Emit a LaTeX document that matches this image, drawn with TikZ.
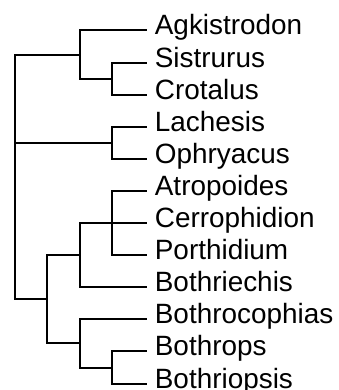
\documentclass[tikz,border=0pt]{standalone}
\usepackage{fontspec}
\setmainfont{Liberation Sans}
\usepackage{tikz}
\tikzset{
  every picture/.style={line join=miter, line cap=butt},
  branch/.style={line width=1.42pt},
  taxon/.style={anchor=base west, inner sep=0pt, xshift=0.19cm, yshift=-0.1125cm, font=\fontsize{19.85}{24}\selectfont},
}

\begin{document}
\begin{tikzpicture}
\useasboundingbox (0,0) rectangle (8.450,9.750);
% tips
\coordinate (tAgk) at (3.675,8.988);
\coordinate (tSis) at (3.675,8.185);
\coordinate (tCro) at (3.675,7.383);
\coordinate (tLac) at (3.675,6.580);
\coordinate (tOph) at (3.675,5.778);
\coordinate (tAtr) at (3.675,4.975);
\coordinate (tCer) at (3.675,4.173);
\coordinate (tPor) at (3.675,3.370);
\coordinate (tBrc) at (3.675,2.568);
\coordinate (tBcp) at (3.675,1.765);
\coordinate (tBrp) at (3.675,0.963);
\coordinate (tBps) at (3.675,0.160);
\node[taxon] (agk) at (tAgk) {Agkistrodon};
\node[taxon] (sis) at (tSis) {Sistrurus};
\node[taxon] (cro) at (tCro) {Crotalus};
\node[taxon] (lac) at (tLac) {Lachesis};
\node[taxon] (oph) at (tOph) {Ophryacus};
\node[taxon] (atr) at (tAtr) {Atropoides};
\node[taxon] (cer) at (tCer) {Cerrophidion};
\node[taxon] (por) at (tPor) {Porthidium};
\node[taxon] (brc) at (tBrc) {Bothriechis};
\node[taxon] (bcp) at (tBcp) {Bothrocophias};
\node[taxon] (brp) at (tBrp) {Bothrops};
\node[taxon] (bps) at (tBps) {Bothriopsis};
% internal nodes
\coordinate (nSC) at (2.788,7.784);
\coordinate (nAg) at (2.000,8.385);
\coordinate (nLO) at (2.788,6.179);
\coordinate (nACP) at (2.788,4.173);
\coordinate (nBcl) at (2.000,3.370);
\coordinate (nBB) at (2.788,0.561);
\coordinate (nBBB) at (2.000,1.163);
\coordinate (nBot) at (1.168,2.268);
\coordinate (nRoot) at (0.375,6.179);
% branches
\draw[branch] (nSC) |- (tSis) (nSC) |- (tCro);
\draw[branch] (nAg) |- (tAgk) (nAg) |- (nSC);
\draw[branch] (nLO) |- (tLac) (nLO) |- (tOph);
\draw[branch] (nACP) |- (tAtr) (nACP) |- (tCer) (nACP) |- (tPor);
\draw[branch] (nBcl) |- (nACP) (nBcl) |- (tBrc);
\draw[branch] (nBB) |- (tBrp) (nBB) |- (tBps);
\draw[branch] (nBBB) |- (tBcp) (nBBB) |- (nBB);
\draw[branch] (nBot) |- (nBcl) (nBot) |- (nBBB);
\draw[branch] (nRoot) |- (nAg) (nRoot) |- (nLO) (nRoot) |- (nBot);
\end{tikzpicture}
\end{document}
